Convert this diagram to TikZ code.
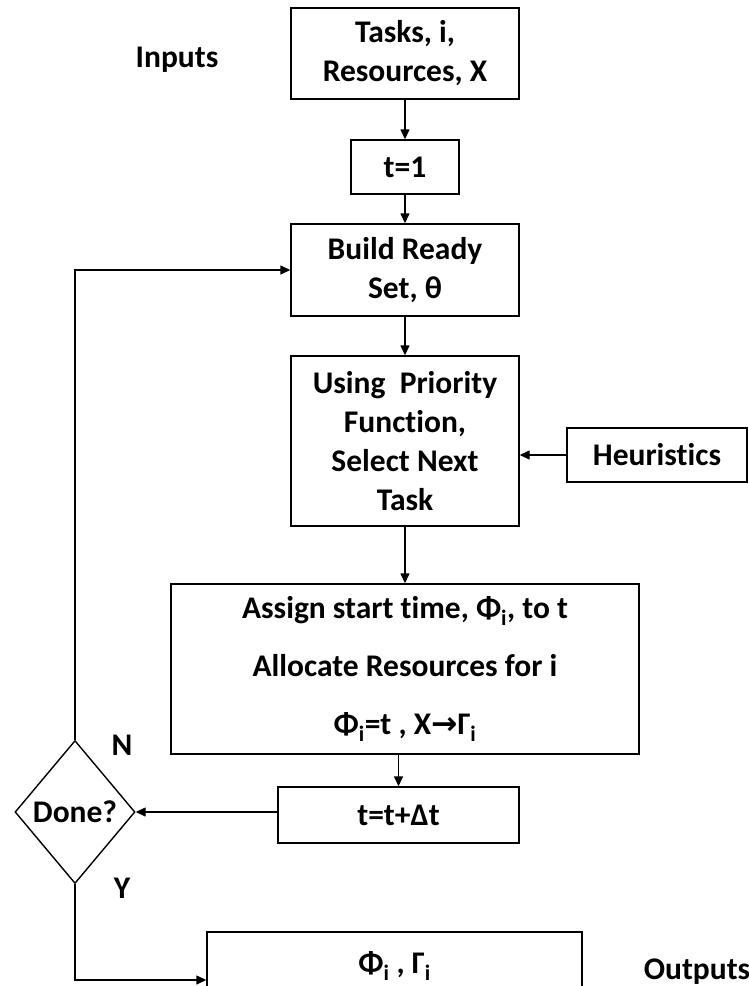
\documentclass[tikz,border=0pt]{standalone}
\usepackage{fontspec}
\setmainfont{Carlito}[Ligatures=NoCommon]
\newfontfamily\djv{DejaVu Sans}
\usetikzlibrary{shapes.geometric,arrows.meta}
\begin{document}
\begin{tikzpicture}[x=1pt,y=-1pt,
  every node/.style={font=\fontsize{31.5}{39}\selectfont\bfseries, inner sep=0pt},
  box/.style={draw, line width=1.4pt, align=center},
  conn/.style={line width=1.4pt, -{Triangle[length=10pt,width=9pt]}},
  plainline/.style={line width=1.4pt}]
\clip (0,0) rectangle (749,986);
\fill[white] (0,0) rectangle (749,986);
\node (inputs) at (177,60) {Inputs};
\node[box, minimum width=228pt, minimum height=91pt] (tasks) at (405,53.5) {Tasks, i,\\Resources, X};
\node[box, minimum width=108pt, minimum height=54pt] (t1) at (405,167) {t=1};
\node[box, minimum width=228pt, minimum height=92pt] (build) at (405,270) {Build Ready\\Set, θ};
\node[box, minimum width=228pt, minimum height=170pt] (prio) at (405,441) {Using~~Priority\\Function,\\Select Next\\Task};
\node[box, minimum width=180pt, minimum height=54pt] (heur) at (657,455) {Heuristics};
\node[box, minimum width=468pt, minimum height=170pt] (assign) at (405,669) {Assign start time, Φ\textsubscript{i}, to t\\[19pt]Allocate Resources for i\\[19pt]Φ\textsubscript{i}=t , X{\djv\bfseries →}Γ\textsubscript{i}};
\node[box, minimum width=241pt, minimum height=56pt] (tdt) at (398.5,815) {t=t+Δt};
\node[draw, diamond, line width=1.4pt, minimum width=120pt, minimum height=143pt, aspect=0.84] (done) at (75,812) {Done?};
\node (nlab) at (122,745) {N};
\node (ylab) at (122,888) {Y};
\node[box, minimum width=375pt, minimum height=68pt] (out) at (394.5,966) {Φ\textsubscript{i} , Γ\textsubscript{i}};
\node (outputs) at (697,972) {Outputs};
\draw[conn] (tasks) -- (t1);
\draw[conn] (t1) -- (build);
\draw[conn] (build) -- (prio);
\draw[conn] (heur.west) -- (heur.west -| prio.east);
\draw[conn] (prio.south) -- (assign.north);
\draw[conn] (assign.south -| tdt.north) -- (tdt.north);
\draw[conn] (done.east -| tdt.west) -- (done.east);
\draw[conn] (done.north) |- (build.west);
\coordinate (outin) at ([yshift=-14pt]out.west);
\draw[conn] (done.south) |- (outin);
\end{tikzpicture}
\end{document}
